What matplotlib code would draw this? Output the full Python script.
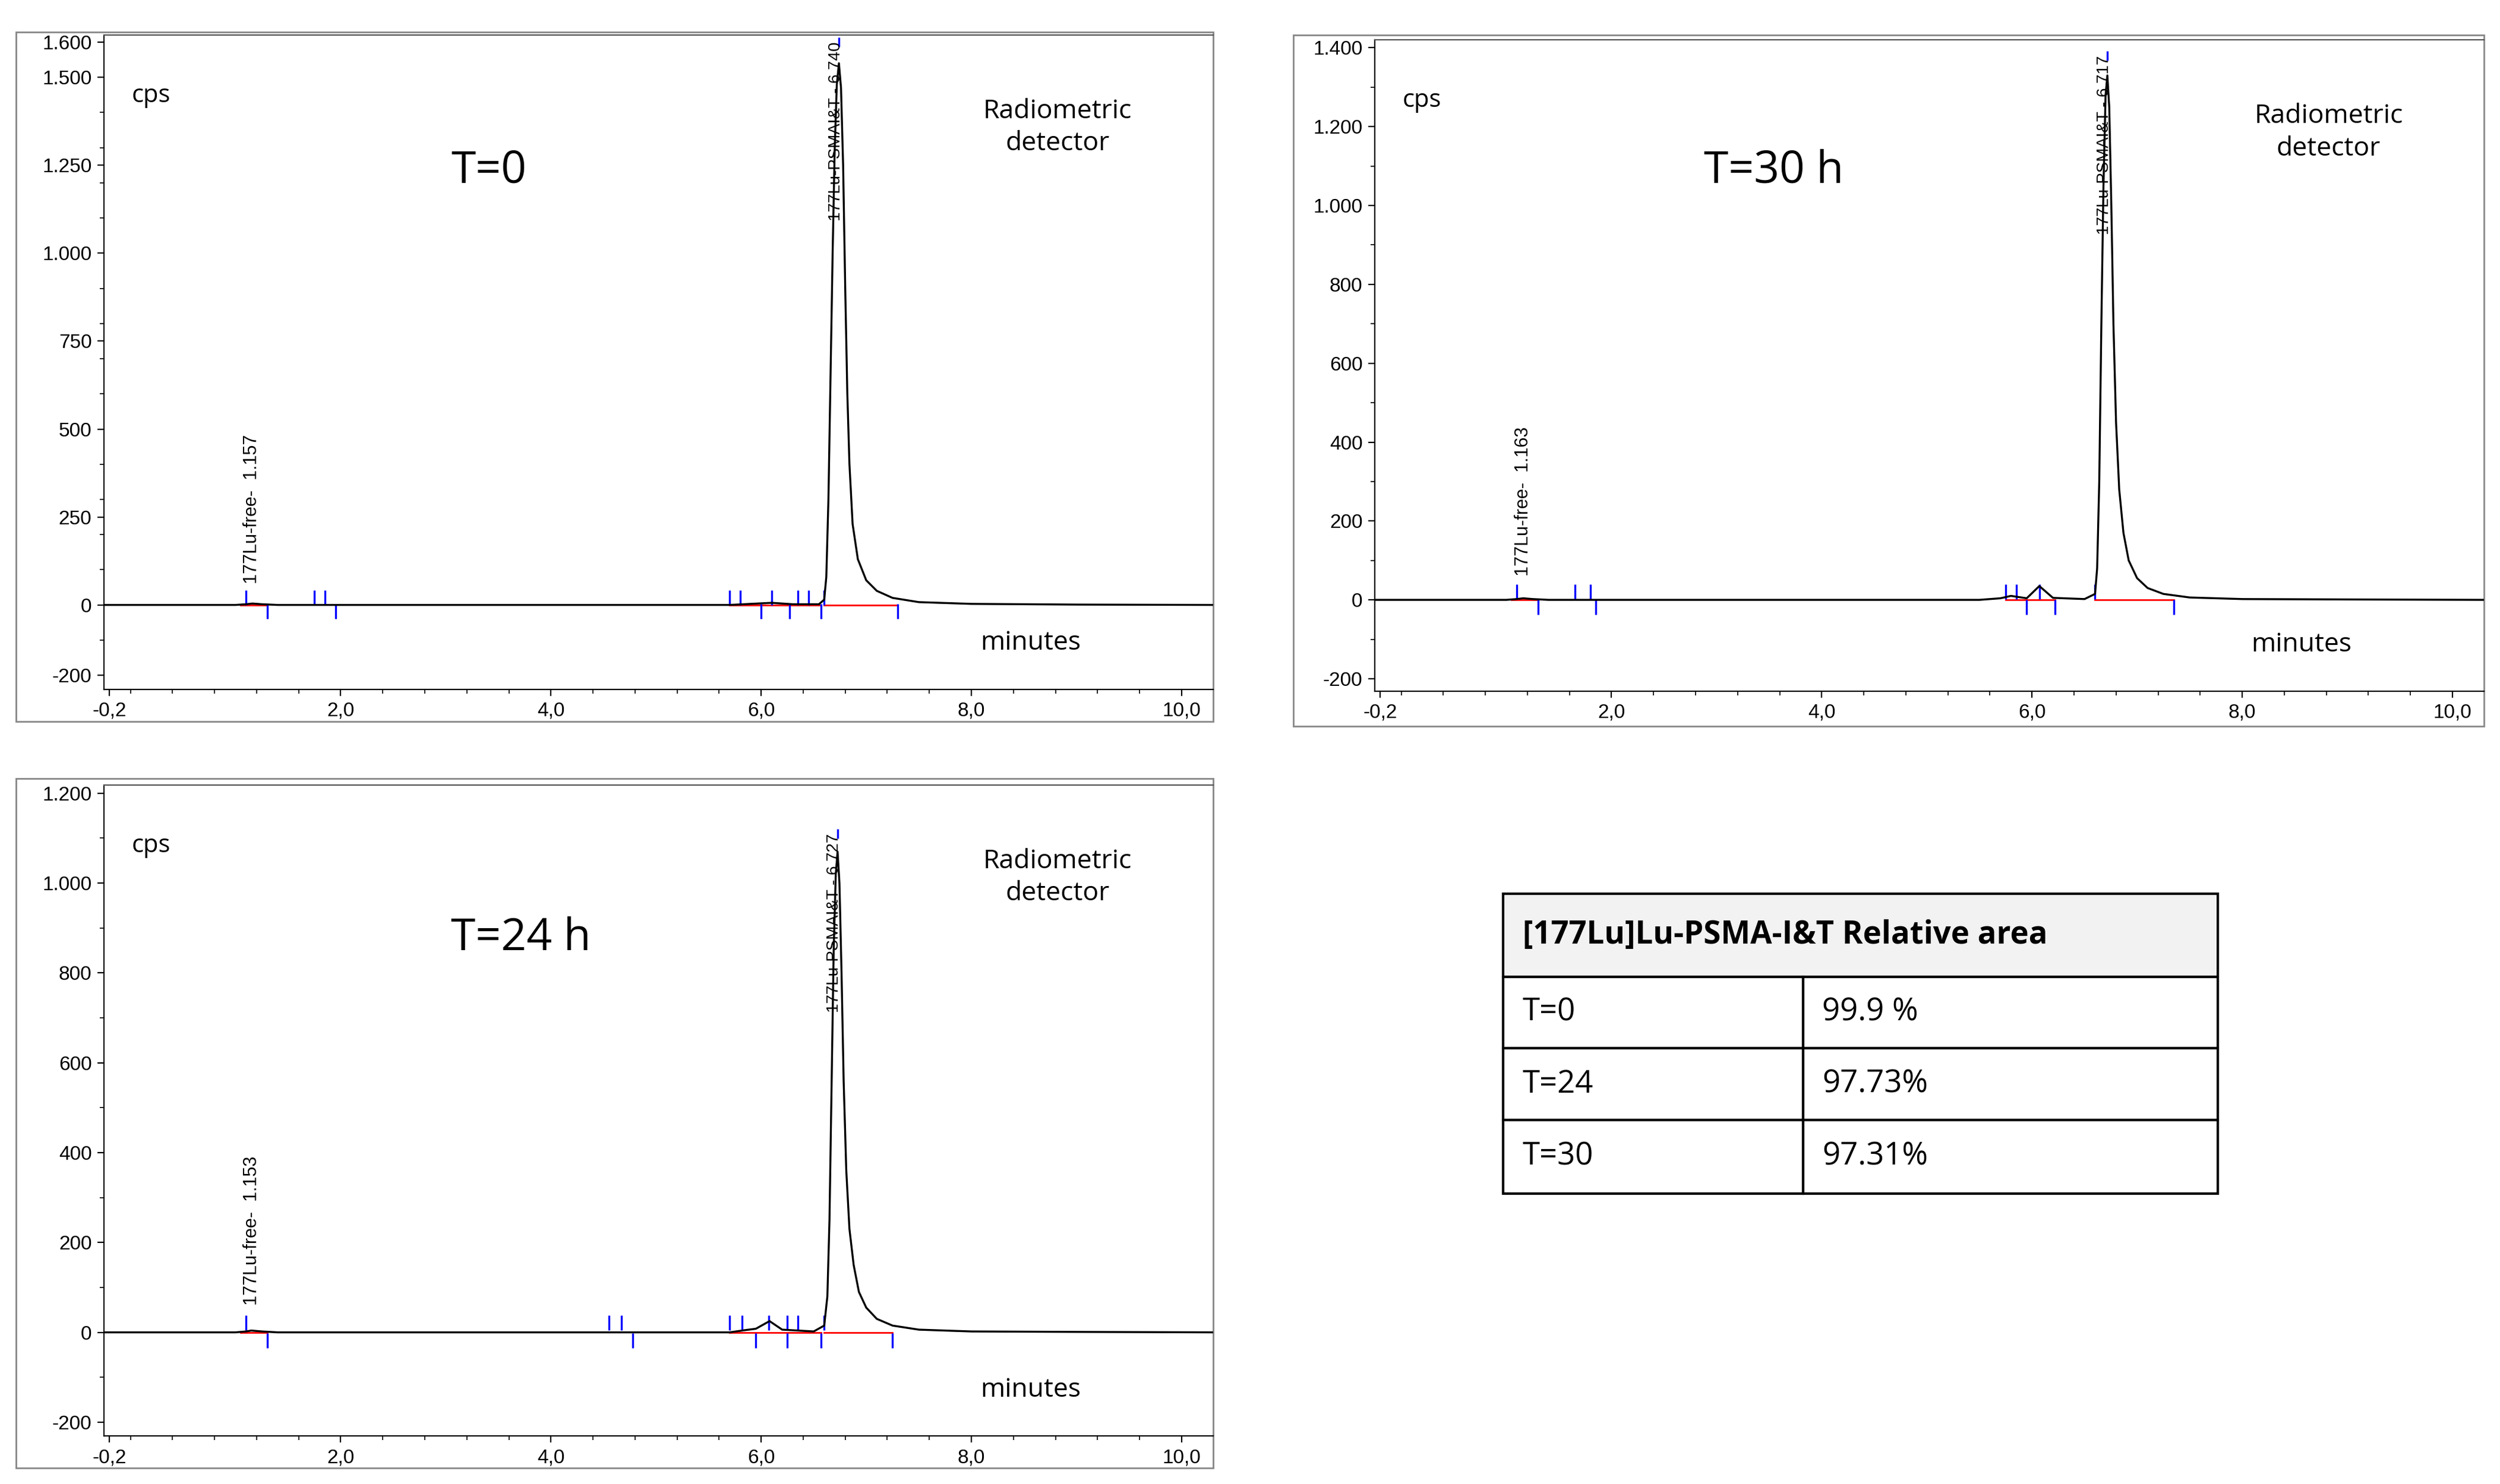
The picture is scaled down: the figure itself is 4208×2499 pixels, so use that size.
import numpy as np
import matplotlib.pyplot as plt
from matplotlib.patches import Rectangle
from matplotlib.ticker import FuncFormatter, MultipleLocator

# chromatogram data (minutes, cps)
t0_t = [-0.25, 1.0, 1.1, 1.16, 1.25, 1.4, 5.7, 5.9, 6.1, 6.3, 6.55, 6.6, 6.62, 6.64, 6.66, 6.68,
        6.70, 6.72, 6.74, 6.76, 6.78, 6.80, 6.82, 6.84, 6.87, 6.92, 7.0, 7.1, 7.25, 7.5, 8.0,
        9.0, 10.3]
t0_y = [0, 0, 2, 4, 2, 0, 0, 3, 6, 2, 2, 15, 80, 300, 650, 1000, 1300, 1480, 1540, 1470, 1250,
        900, 600, 400, 230, 130, 70, 40, 20, 8, 3, 1, 0]
t30_t = [-0.25, 1.0, 1.1, 1.16, 1.25, 1.4, 5.5, 5.7, 5.8, 5.95, 6.07, 6.2, 6.5, 6.6, 6.62, 6.64,
         6.66, 6.68, 6.70, 6.717, 6.735, 6.755, 6.775, 6.80, 6.83, 6.87, 6.92, 7.0, 7.1, 7.25,
         7.5, 8.0, 9.0, 10.3]
t30_y = [0, 0, 2, 4, 2, 0, 0, 4, 10, 4, 35, 5, 2, 15, 80, 300, 700, 1050, 1280, 1330, 1250,
         1000, 700, 450, 280, 170, 100, 55, 30, 15, 6, 2, 1, 0]
t24_t = [-0.25, 1.0, 1.1, 1.15, 1.25, 1.4, 5.7, 5.85, 5.95, 6.08, 6.2, 6.5, 6.6, 6.63, 6.65,
         6.67, 6.69, 6.71, 6.727, 6.745, 6.765, 6.785, 6.81, 6.84, 6.88, 6.93, 7.0, 7.1, 7.25,
         7.5, 8.0, 9.0, 10.3]
t24_y = [0, 0, 2, 4, 2, 0, 0, 5, 8, 25, 6, 2, 15, 80, 250, 550, 850, 1020, 1070, 1000, 800,
         560, 360, 230, 150, 90, 55, 30, 15, 6, 2, 1, 0]

# integration marks: up / down
t0_up = [1.1, 1.75, 1.85, 5.7, 5.8, 6.1, 6.35, 6.45, 6.6]
t0_dn = [1.3, 1.95, 6.0, 6.27, 6.57, 7.3]
t30_up = [1.1, 1.65, 1.8, 5.75, 5.85, 6.07, 6.6]
t30_dn = [1.3, 1.85, 5.95, 6.22, 7.35]
t24_up = [1.1, 4.55, 4.67, 5.7, 5.82, 6.07, 6.25, 6.35, 6.6]
t24_dn = [1.3, 4.78, 5.95, 6.25, 6.57, 7.25]
# red baselines
t0_base = [(1.05, 1.3), (5.7, 6.57), (6.6, 7.3)]
t30_base = [(1.05, 1.3), (5.75, 6.22), (6.6, 7.35)]
t24_base = [(1.05, 1.3), (5.7, 6.57), (6.6, 7.25)]

t0_yticks = [-200, 0, 250, 500, 750, 1000, 1250, 1500, 1600]
t30_yticks = [-200, 0, 200, 400, 600, 800, 1000, 1200, 1400]
t24_yticks = [-200, 0, 200, 400, 600, 800, 1000, 1200]

table_rows = [["T=0", "99.9 %"], ["T=24", "97.73%"], ["T=30", "97.31%"]]

W, H = 1560, 930
fig = plt.figure(figsize=(21.04, 12.495), dpi=200)
plt.rcParams['font.family'] = ['Liberation Sans', 'DejaVu Sans']

over = fig.add_axes([0, 0, 1, 1])
over.set_xlim(0, W)
over.set_ylim(H, 0)
over.axis('off')


def box(l, r, top, bot):
    return [l / W, (H - bot) / H, (r - l) / W, (bot - top) / H]


def thou(v, pos):
    return f"{v/1000:.3f}" if abs(v) >= 1000 else f"{int(v)}"


def panel(rect, frame, t, y, up, dn, base, ylim, yticks, peak, free, title, tpos):
    ax = fig.add_axes(box(*rect))
    ax.set_facecolor('none')
    ax.plot(t, y, color='black', lw=1.2, zorder=3)
    for a, b in base:
        ax.plot([a, b], [0, 0], color='red', lw=1.0, zorder=2)
    ax.plot(up, [22] * len(up), '|', color='blue', ms=9, mew=1.2)
    ax.plot(dn, [-18] * len(dn), '|', color='blue', ms=9, mew=1.2)
    ax.plot([peak[0]], [peak[1]], '|', color='blue', ms=6, mew=1.2, zorder=4)
    ax.set_xlim(-0.25, 10.3)
    ax.set_ylim(*ylim)
    ax.set_xticks([-0.2, 2, 4, 6, 8, 10])
    ax.xaxis.set_major_formatter(FuncFormatter(lambda v, p: f"{v:.1f}".replace('.', ',')))
    ax.xaxis.set_minor_locator(MultipleLocator(0.4))
    ax.set_yticks(yticks)
    ax.yaxis.set_minor_locator(MultipleLocator(100))
    ax.yaxis.set_major_formatter(FuncFormatter(thou))
    ax.tick_params(labelsize=12, length=4, width=0.8)
    ax.tick_params(which='minor', length=2.5, width=0.6)
    ax.spines['right'].set_visible(False)
    ax.spines['top'].set_color('#555555')
    # peak labels
    ax.text(peak[0] - 0.03, peak[1], f"177Lu-PSMAI&T - {peak[2]}", rotation=90, ha='center',
            va='top', fontsize=10, zorder=4)
    ax.text(free[0], 60, f"177Lu-free-  {free[1]}", rotation=90, ha='center', va='bottom',
            fontsize=11)
    over.add_patch(Rectangle((frame[0], frame[2]), frame[1] - frame[0], frame[3] - frame[2],
                             fill=False, ec='#888888', lw=1.0))
    l, r, top, bot = rect
    over.text(l + 17, top + 38, "cps", fontsize=15, family='Open Sans', va='center')
    over.text(tpos[0], tpos[1], title, fontsize=27, family='Open Sans', ha='center', va='center')
    over.text(r - 97, top + 58, "Radiometric\ndetector", fontsize=16, family='Open Sans',
              ha='center', va='center', linespacing=1.3)
    over.text(r - 114, bot - 29, "minutes", fontsize=16, family='Open Sans', ha='center',
              va='center')
    return ax


panel((65, 757, 22, 432), (10, 757, 20, 452), t0_t, t0_y, t0_up, t0_dn, t0_base,
      (-240, 1620), t0_yticks, (6.74, 1600, "6.740"), (1.157, "1.157"), "T=0", (305, 107))
panel((858, 1550, 25, 433), (807, 1550, 22, 455), t30_t, t30_y, t30_up, t30_dn, t30_base,
      (-231, 1420), t30_yticks, (6.717, 1380, "6.717"), (1.163, "1.163"), "T=30 h", (1107, 107))
panel((65, 757, 492, 900), (10, 757, 488, 920), t24_t, t24_y, t24_up, t24_dn, t24_base,
      (-231, 1218), t24_yticks, (6.727, 1110, "6.727"), (1.153, "1.153"), "T=24 h", (325, 588))

# table
tl, tr, tm = 938, 1384, 1125
rows_y = [560, 612, 657, 702, 748]
over.add_patch(Rectangle((tl, rows_y[0]), tr - tl, rows_y[1] - rows_y[0], fc='#f2f2f2',
                         ec='black', lw=1.5))
over.text(tl + 12, (rows_y[0] + rows_y[1]) / 2, "[177Lu]Lu-PSMA-I&T Relative area",
          fontsize=19, fontweight='bold', family='Open Sans', va='center')
for i, (a, b) in enumerate(table_rows):
    y0, y1 = rows_y[i + 1], rows_y[i + 2]
    over.add_patch(Rectangle((tl, y0), tm - tl, y1 - y0, fill=False, ec='black', lw=1.5))
    over.add_patch(Rectangle((tm, y0), tr - tm, y1 - y0, fill=False, ec='black', lw=1.5))
    over.text(tl + 12, (y0 + y1) / 2, a, fontsize=19, family='Open Sans', va='center')
    over.text(tm + 12, (y0 + y1) / 2, b, fontsize=19, family='Open Sans', va='center')

fig.savefig("out.png", dpi=200)
